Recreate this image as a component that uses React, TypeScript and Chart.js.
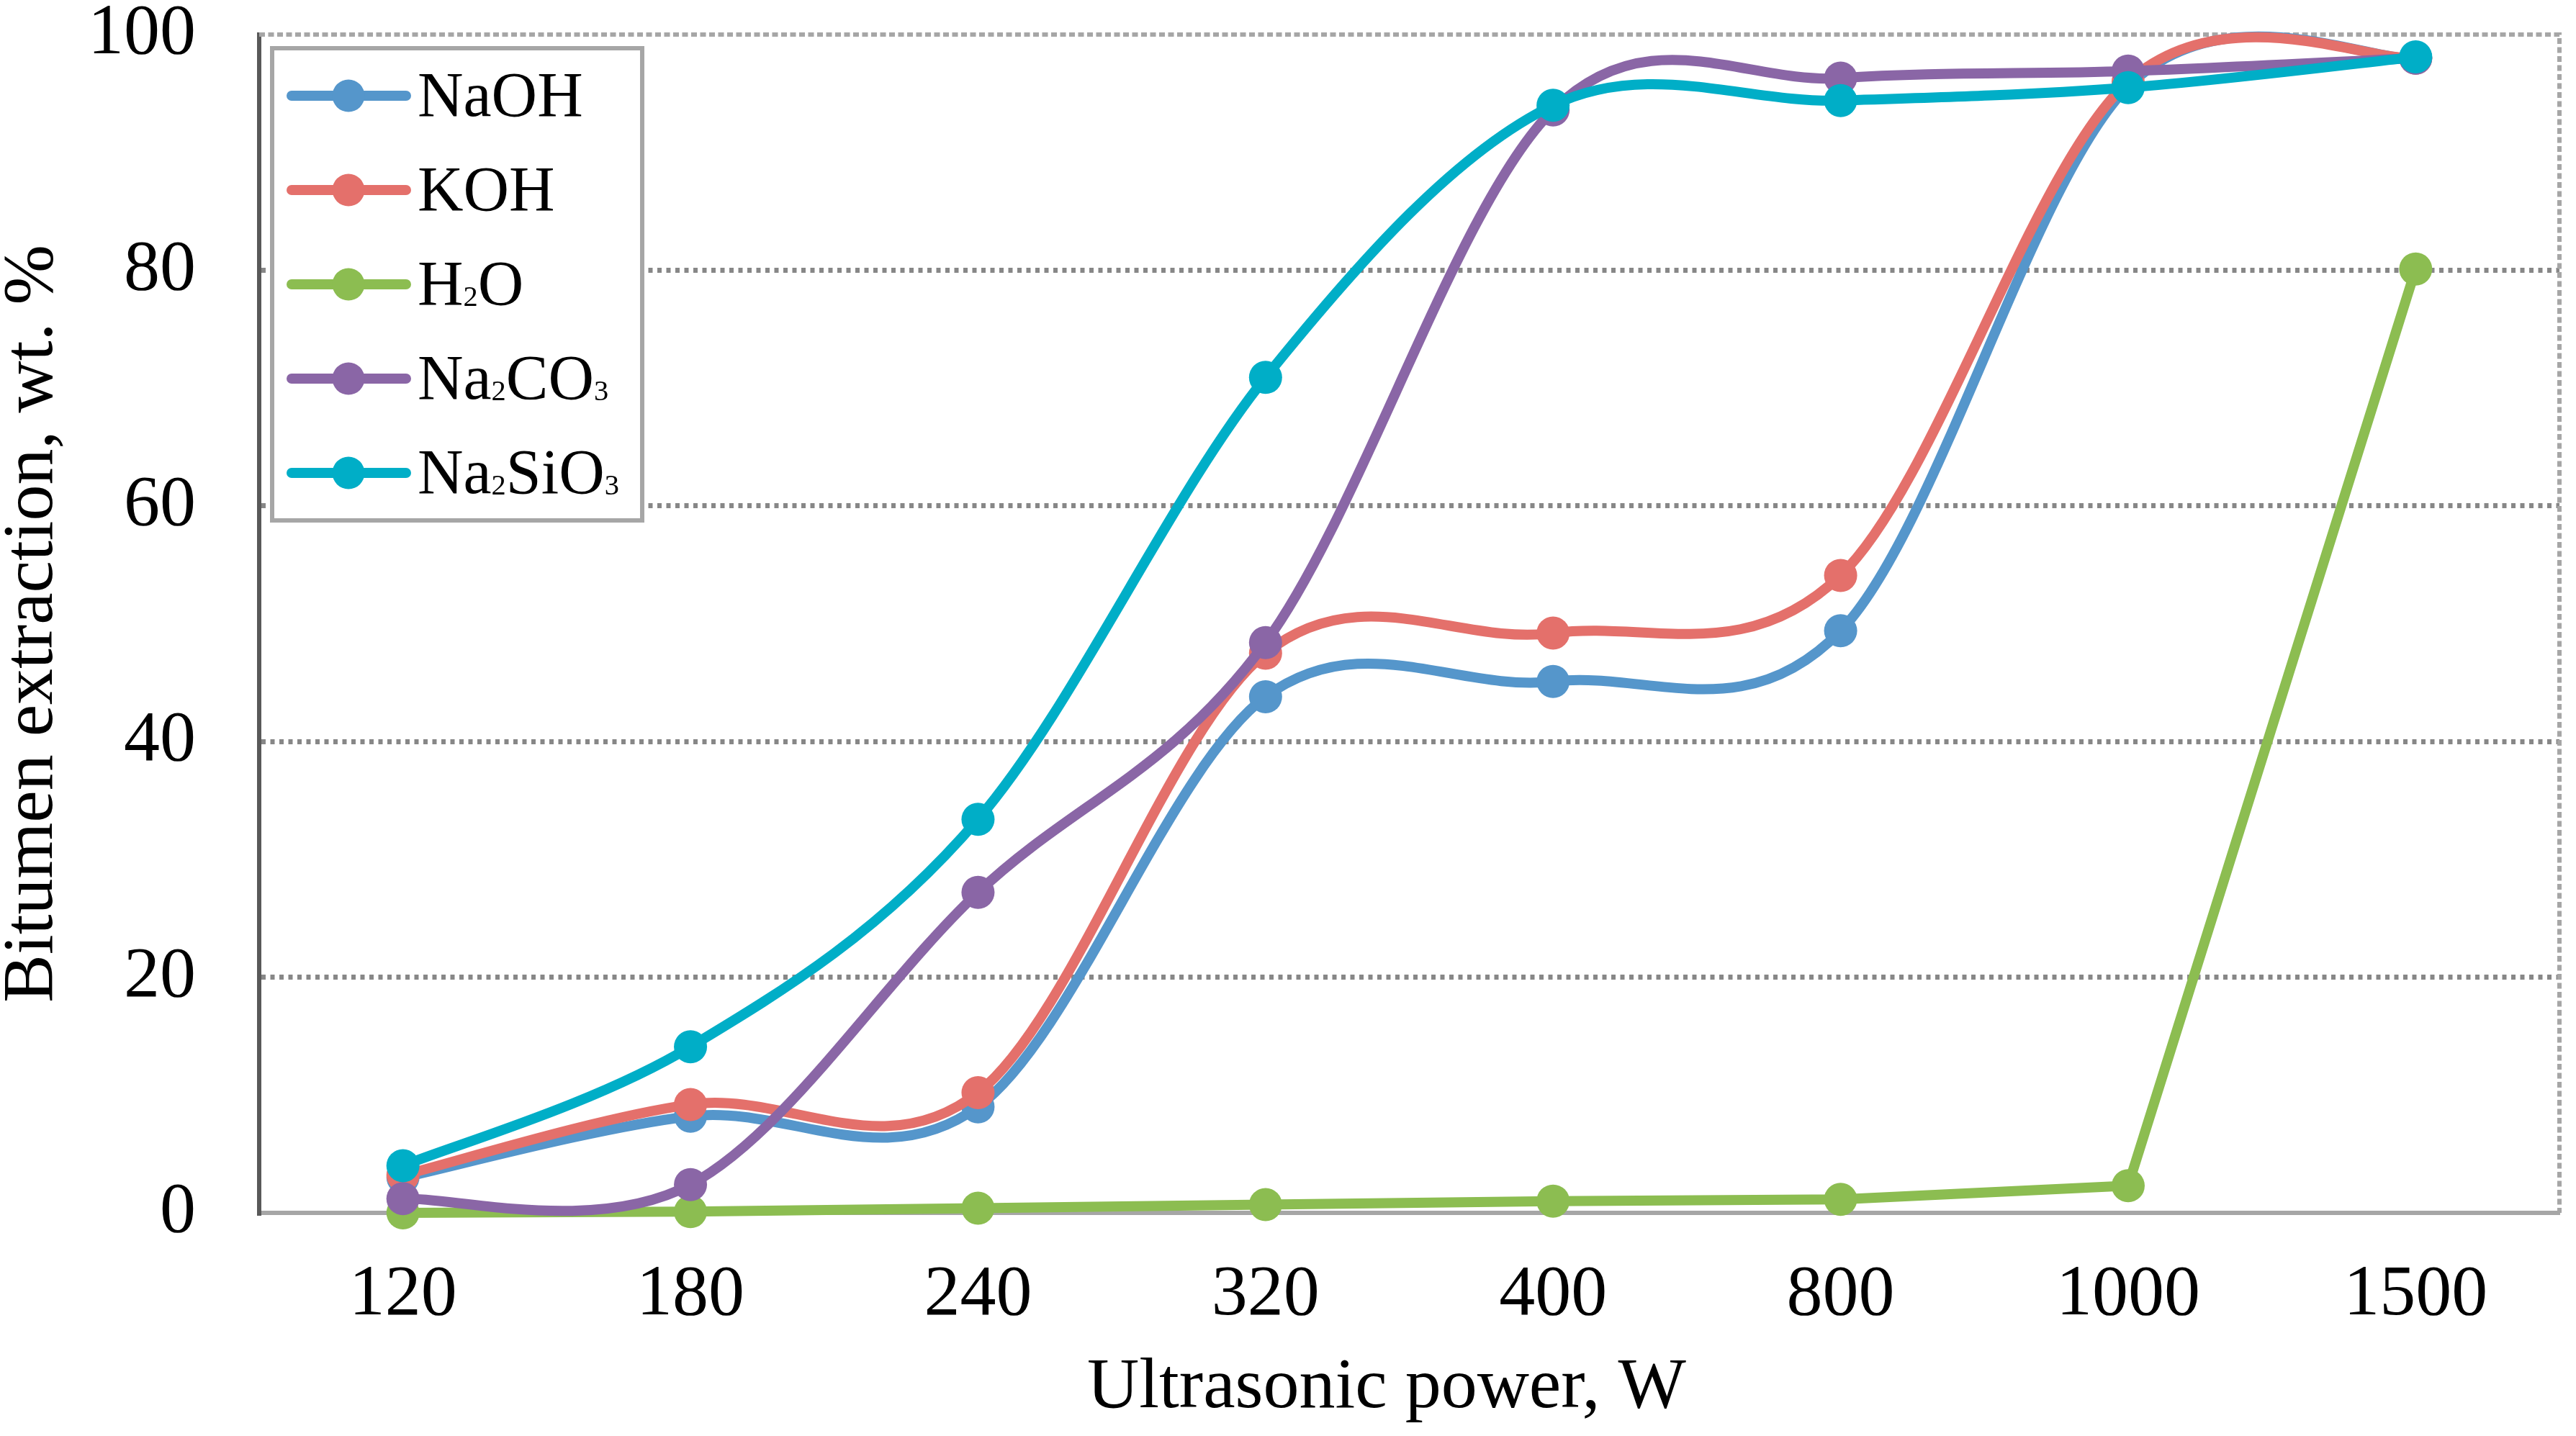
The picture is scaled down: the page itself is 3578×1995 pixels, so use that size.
import React, { useEffect, useRef } from "react";
import { Chart, registerables } from "chart.js";

Chart.register(...registerables);

const FONT = "'Liberation Serif', 'Times New Roman', serif";

const powers = ["120", "180", "240", "320", "400", "800", "1000", "1500"];
const seriesNames = ["NaOH", "KOH", "H₂O", "Na₂CO₃", "Na₂SiO₃"];
const seriesColors = ["#5596CB", "#E4706B", "#8CBD51", "#8A66A6", "#00AEC7"];

const naoh = [3.0, 8.2, 9.0, 43.8, 45.1, 49.4, 95.6, 98.0];
const koh = [3.2, 9.2, 10.2, 47.5, 49.2, 54.1, 96.0, 98.0];
const water = [0.0, 0.1, 0.4, 0.7, 1.0, 1.15, 2.3, 80.1];
const na2co3 = [1.2, 2.4, 27.2, 48.4, 93.6, 96.3, 96.9, 98.0];
const na2sio3 = [4.0, 14.1, 33.4, 70.9, 94.0, 94.4, 95.5, 98.1];

const yTicks = [0, 20, 40, 60, 80, 100];
const xTitle = "Ultrasonic power, W";
const yTitle = "Bitumen extraction, wt. %";

const SUBS = "₀₁₂₃₄₅₆₇₈₉";

// draws text with unicode subscript digits as small digits on the baseline
const drawRich = (ctx: CanvasRenderingContext2D, text: string, x: number, y: number, size: number) => {
  let cx = x;
  for (const ch of text) {
    const sub = SUBS.indexOf(ch);
    if (sub >= 0) {
      ctx.font = `${size * 0.46}px ${FONT}`;
      ctx.fillText(String(sub), cx, y + 2);
      cx += ctx.measureText(String(sub)).width;
    } else {
      ctx.font = `${size}px ${FONT}`;
      ctx.fillText(ch, cx, y);
      cx += ctx.measureText(ch).width;
    }
  }
};

// Excel-style smoothing: Catmull-Rom control points (1/6 of neighbour span)
const excelSmooth = {
  id: "excelSmooth",
  beforeDatasetDraw(chart: any, args: any) {
    const meta = args.meta;
    const line = meta.dataset;
    if (!line || !line.options.tension) return;
    const pts = meta.data;
    const n = pts.length;
    for (let i = 0; i < n; i++) {
      const p = pts[i];
      const prev = pts[Math.max(i - 1, 0)];
      const next = pts[Math.min(i + 1, n - 1)];
      const dx = (next.x - prev.x) / 6;
      const dy = (next.y - prev.y) / 6;
      p.cp1x = p.x - dx;
      p.cp1y = p.y - dy;
      p.cp2x = p.x + dx;
      p.cp2y = p.y + dy;
    }
    line._pointsUpdated = true;
  },
};

const plotBorder = {
  id: "plotBorder",
  beforeDatasetsDraw(chart: any) {
    const { ctx, chartArea } = chart;
    ctx.save();
    ctx.strokeStyle = "#A6A6A6";
    ctx.lineWidth = 6;
    ctx.setLineDash([8, 4.5]);
    ctx.beginPath();
    ctx.moveTo(chartArea.left, chartArea.top);
    ctx.lineTo(chartArea.right, chartArea.top);
    ctx.lineTo(chartArea.right, chartArea.bottom);
    ctx.stroke();
    ctx.restore();
  },
};

const boxLegend = {
  id: "boxLegend",
  afterDraw(chart: any) {
    const { ctx } = chart;
    const left = 378;
    const top = 67;
    const right = 892;
    const bottom = 723;
    ctx.save();
    ctx.fillStyle = "#FFFFFF";
    ctx.fillRect(left, top, right - left, bottom - top);
    ctx.strokeStyle = "#A6A6A6";
    ctx.lineWidth = 6;
    ctx.strokeRect(left, top, right - left, bottom - top);

    chart.data.datasets.forEach((ds: any, i: number) => {
      const cy = 133 + i * 131;
      ctx.strokeStyle = ds.borderColor;
      ctx.lineWidth = 14;
      ctx.lineCap = "round";
      ctx.beginPath();
      ctx.moveTo(405, cy);
      ctx.lineTo(564, cy);
      ctx.stroke();
      ctx.fillStyle = ds.borderColor;
      ctx.beginPath();
      ctx.arc(484, cy, 22.5, 0, Math.PI * 2);
      ctx.fill();
      ctx.fillStyle = "#000000";
      ctx.textBaseline = "alphabetic";
      ctx.textAlign = "left";
      drawRich(ctx, ds.label, 580, cy + 28, 88);
    });

    // x axis title, Excel places it a little left of the plot centre
    ctx.font = `100px ${FONT}`;
    ctx.textAlign = "center";
    ctx.textBaseline = "middle";
    ctx.fillText(xTitle, 1926, 1929);
    ctx.restore();
  },
};

const App = () => {
  const canvasRef = useRef<HTMLCanvasElement | null>(null);

  useEffect(() => {
    const values = [naoh, koh, water, na2co3, na2sio3];
    const datasets = seriesNames.map((name, i) => ({
      label: name,
      data: values[i],
      borderColor: seriesColors[i],
      backgroundColor: seriesColors[i],
      borderWidth: 14,
      pointRadius: 23,
      pointBorderWidth: 0,
      pointBackgroundColor: seriesColors[i],
      tension: name === "H₂O" ? 0 : 0.4,
      capBezierPoints: false,
      clip: false,
      order: seriesNames.length - i,
    }));

    const chart = new Chart(canvasRef.current as HTMLCanvasElement, {
      type: "line",
      data: { labels: powers, datasets },
      options: {
        animation: false,
        responsive: true,
        maintainAspectRatio: false,
        layout: { padding: { top: 48, right: 6, bottom: 0, left: 0 } },
        plugins: {
          legend: { display: false },
          tooltip: { enabled: false },
        },
        scales: {
          x: {
            type: "category",
            offset: true,
            grid: { display: false, drawTicks: false },
            border: { display: true, color: "#A6A6A6", width: 6 },
            ticks: {
              color: "#000000",
              padding: 70,
              font: { family: FONT, size: 100, lineHeight: 0.9 },
              maxRotation: 0,
            },
            title: { display: false, text: xTitle },
            afterFit: (scale: any) => {
              scale.height = 310;
              scale.paddingLeft = 0;
              scale.paddingRight = 0;
            },
          },
          y: {
            min: 0,
            max: 100,
            afterBuildTicks: (scale: any) => {
              scale.ticks = yTicks.map((v) => ({ value: v }));
            },
            grid: {
              drawTicks: false,
              lineWidth: 7,
              color: (c: any) =>
                c.tick && (c.tick.value === 0 || c.tick.value === 100) ? "rgba(0,0,0,0)" : "#878787",
            },
            border: { display: true, color: "#595959", width: 6, dash: [6, 6.5] },
            ticks: {
              color: "#000000",
              padding: 88,
              font: { family: FONT, size: 100, lineHeight: 0.9 },
            },
            title: {
              display: true,
              text: yTitle,
              color: "#000000",
              font: { family: FONT, size: 100, lineHeight: 0.9 },
              padding: { top: 1, bottom: 31 },
            },
            afterFit: (scale: any) => {
              scale.width = 360;
              scale.paddingTop = 0;
              scale.paddingBottom = 0;
            },
          },
        },
      },
      plugins: [excelSmooth, plotBorder, boxLegend],
    } as any);

    return () => {
      chart.destroy();
    };
  }, []);

  return (
    <div style={{ position: "fixed", left: 0, top: 0, width: "100vw", height: "100vh", background: "#FFFFFF" }}>
      <canvas ref={canvasRef} />
    </div>
  );
};

export default App;
